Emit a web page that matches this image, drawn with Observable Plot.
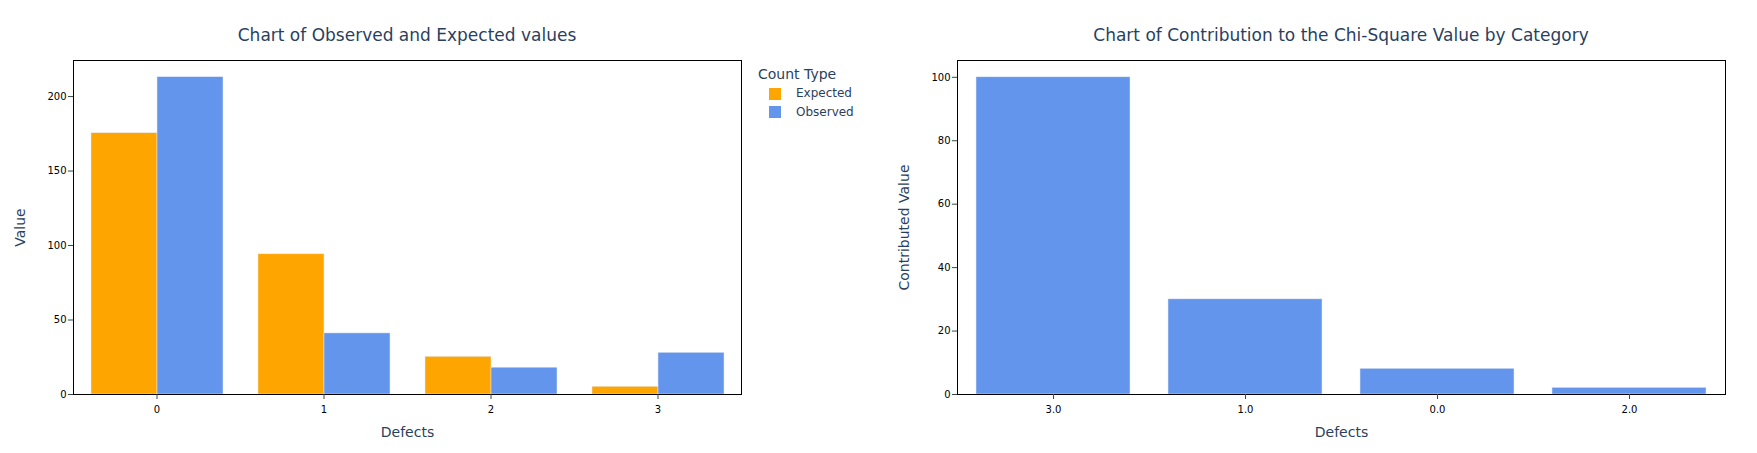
<!DOCTYPE html>
<html>
<head>
<meta charset="utf-8">
<script src="https://cdn.jsdelivr.net/npm/d3@7"></script>
<script src="https://cdn.jsdelivr.net/npm/@observablehq/plot@0.6"></script>
<style>
  body { margin: 0; background: #fff; }
  #root { position: relative; width: 1757px; height: 453px; overflow: hidden; font-family: "DejaVu Sans", Verdana, sans-serif; background: #fff; }
  .title { position: absolute; font-size: 17px; line-height: 1; color: #2a3f5f; white-space: nowrap; transform: translate(-50%, -50%); }
  .panel { position: absolute; top: 0; }
  .panel svg { overflow: visible; }
  g[aria-label="y-axis label"], g[aria-label="x-axis label"], g[aria-label="fx-axis label"] { font-size: 14px; fill: #2a3f5f; }
  #legendTitle { position: absolute; left: 758px; top: 74px; transform: translateY(-50%); font-size: 14px; line-height: 1; color: #2a3f5f; white-space: nowrap; }
  #legend { position: absolute; left: 769px; top: 85px; }
  #legend svg { margin-right: 15px !important; }
</style>
</head>
<body>
<div id="root"></div>
<script>
// ---- data ----
const defects = ["0", "1", "2", "3"];
const countTypes = ["Expected", "Observed"];
const typeColors = ["#FFA500", "#6495ED"];
const expectedValues = [175.4, 94.1, 25.3, 5.2];
const observedValues = [213, 41, 18, 28];
const leftTicks = [0, 50, 100, 150, 200];

const contribCategories = ["3.0", "1.0", "0.0", "2.0"];
const contribValues = [100, 30.0, 8.1, 2.1];
const rightTicks = [0, 20, 40, 60, 80, 100];

const leftTitle = "Chart of Observed and Expected values";
const rightTitle = "Chart of Contribution to the Chi-Square Value by Category";

// ---- tables ----
const rowsLeft = defects.flatMap((d, i) => [
  {defect: d, type: countTypes[0], value: expectedValues[i]},
  {defect: d, type: countTypes[1], value: observedValues[i]}
]);
const rowsRight = contribCategories.map((c, i) => ({category: c, value: contribValues[i]}));

const root = document.getElementById("root");
const tickStyle = {fontFamily: "DejaVu Sans, Verdana, sans-serif", fontSize: "10px", color: "#000", background: "transparent", overflow: "visible"};

// ---- left chart ----
const left = Plot.plot({
  width: 880, height: 453,
  marginLeft: 72, marginRight: 138, marginTop: 60, marginBottom: 59,
  style: tickStyle,
  fx: {domain: defects, padding: 0},
  x: {domain: countTypes, paddingInner: 0, paddingOuter: 0.25, axis: null},
  y: {domain: [0, 224.2]},
  color: {domain: countTypes, range: typeColors},
  marks: [
    Plot.barY(rowsLeft, {fx: "defect", x: "type", y: "value", fill: "type", stroke: "#E5ECF6", strokeWidth: 0.5}),
    Plot.frame({stroke: "#000", strokeWidth: 1, facet: "super"}),
    Plot.axisY({ticks: leftTicks, tickSize: 5, tickPadding: 2, stroke: "#444", label: "Value", labelAnchor: "center", labelArrow: "none", labelOffset: 58}),
    Plot.axisFx({anchor: "bottom", tickSize: 5, tickPadding: 6, stroke: "#444", label: "Defects", labelAnchor: "center", labelArrow: "none", labelOffset: 42})
  ]
});
const leftWrap = document.createElement("div");
leftWrap.className = "panel";
leftWrap.style.left = "0px";
leftWrap.appendChild(left);
root.appendChild(leftWrap);

// ---- right chart ----
const right = Plot.plot({
  width: 877, height: 453,
  marginLeft: 77, marginRight: 32, marginTop: 60, marginBottom: 59,
  style: tickStyle,
  x: {domain: contribCategories, paddingInner: 0.2, paddingOuter: 0.1},
  y: {domain: [0, 105.3]},
  marks: [
    Plot.barY(rowsRight, {x: "category", y: "value", fill: typeColors[1], stroke: "#E5ECF6", strokeWidth: 0.5}),
    Plot.frame({stroke: "#000", strokeWidth: 1}),
    Plot.axisY({ticks: rightTicks, tickSize: 5, tickPadding: 2, stroke: "#444", label: "Contributed Value", labelAnchor: "center", labelArrow: "none", labelOffset: 58}),
    Plot.axisX({tickSize: 5, tickPadding: 6, stroke: "#444", label: "Defects", labelAnchor: "center", labelArrow: "none", labelOffset: 42})
  ]
});
const rightWrap = document.createElement("div");
rightWrap.className = "panel";
rightWrap.style.left = "880px";
rightWrap.appendChild(right);
root.appendChild(rightWrap);

// ---- titles ----
function addTitle(text, cx, cy) {
  const d = document.createElement("div");
  d.className = "title";
  d.textContent = text;
  d.style.left = cx + "px";
  d.style.top = cy + "px";
  root.appendChild(d);
}
addTitle(leftTitle, 407, 35);
addTitle(rightTitle, 1341, 35);

// ---- legend ----
const lt = document.createElement("div");
lt.id = "legendTitle";
lt.textContent = "Count Type";
root.appendChild(lt);
const leg = Plot.legend({
  color: {domain: countTypes, range: typeColors},
  legend: "swatches", columns: 1, swatchSize: 12,
  style: {fontFamily: "DejaVu Sans, Verdana, sans-serif", fontSize: "12px", lineHeight: "17.5px", color: "#2a3f5f", margin: 0}
});
const legWrap = document.createElement("div");
legWrap.id = "legend";
legWrap.appendChild(leg);
root.appendChild(legWrap);
</script>
</body>
</html>
